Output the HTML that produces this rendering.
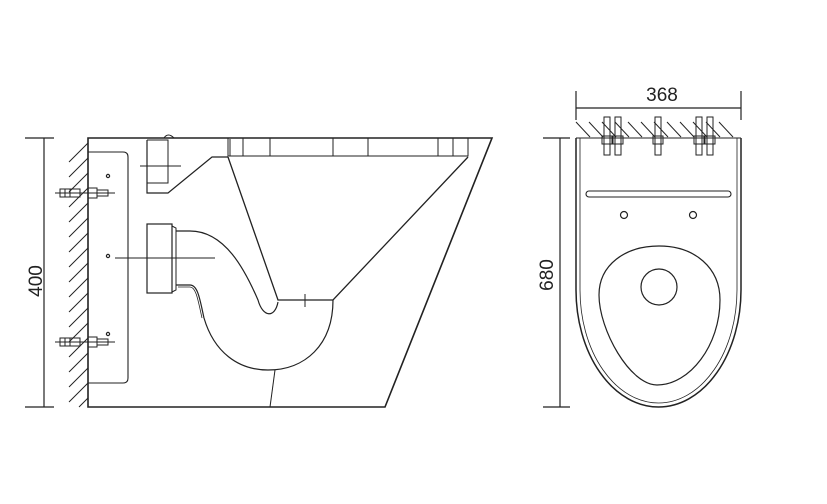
<!DOCTYPE html>
<html><head><meta charset="utf-8"><style>html,body{margin:0;padding:0;background:#fff}svg{display:block}</style></head>
<body>
<svg width="827" height="504" viewBox="0 0 827 504" xmlns="http://www.w3.org/2000/svg" fill="none" stroke="#222" stroke-width="1.2">
<line x1="44" y1="138" x2="44" y2="407"/>
<line x1="25" y1="138" x2="54" y2="138"/>
<line x1="25" y1="407" x2="54" y2="407"/>
<text x="0" y="0" transform="translate(42,281) rotate(-90)" text-anchor="middle" font-family="Liberation Sans, sans-serif" font-size="19" fill="#222" stroke="none">400</text>
<g stroke-width="1">
<line x1="88" y1="140" x2="88" y2="407"/>
<line x1="88" y1="143" x2="69" y2="162"/><line x1="88" y1="158" x2="69" y2="177"/><line x1="88" y1="173" x2="69" y2="192"/>
<line x1="88" y1="188" x2="69" y2="207"/><line x1="88" y1="203" x2="69" y2="222"/><line x1="88" y1="218" x2="69" y2="237"/>
<line x1="88" y1="233" x2="69" y2="252"/><line x1="88" y1="248" x2="69" y2="267"/><line x1="88" y1="263" x2="69" y2="282"/>
<line x1="88" y1="278" x2="69" y2="297"/><line x1="88" y1="293" x2="69" y2="312"/><line x1="88" y1="308" x2="69" y2="327"/>
<line x1="88" y1="323" x2="69" y2="342"/><line x1="88" y1="338" x2="69" y2="357"/><line x1="88" y1="353" x2="69" y2="372"/>
<line x1="88" y1="368" x2="69" y2="387"/><line x1="88" y1="383" x2="69" y2="402"/><line x1="88" y1="398" x2="79" y2="407"/>
</g>
<path d="M88 138 L492 138 L385 407 L88 407 Z" stroke-width="1.6"/>
<path d="M164 138 q4 -6 10 0" stroke-width="1"/>
<path d="M88 152 L123 152 Q128 152 128 157 L128 378 Q128 383 123 383 L88 383" stroke-width="1.1"/>
<circle cx="108" cy="176" r="1.6"/><circle cx="108" cy="256" r="1.6"/><circle cx="108" cy="334" r="1.6"/>
<path d="M228 138 L228 156 L468 156 L468 138" stroke-width="1"/>
<g stroke-width="1"><line x1="243" y1="138" x2="243" y2="156"/><line x1="270" y1="138" x2="270" y2="156"/><line x1="333" y1="138" x2="333" y2="156"/><line x1="368" y1="138" x2="368" y2="156"/><line x1="438" y1="138" x2="438" y2="156"/><line x1="453" y1="138" x2="453" y2="156"/><line x1="230" y1="139" x2="230" y2="156"/></g>
<path d="M147 140 L147 193 L168 193 L212 157 L228 157"/>
<path d="M147 140 L168 140 L168 183 L147 183" stroke-width="1"/>
<line x1="140" y1="166" x2="181" y2="166" stroke-width="1"/>
<path d="M228 157 L278 300 L333 300 L468 157" stroke-width="1.3"/>
<line x1="305" y1="294" x2="305" y2="307" stroke-width="1"/>
<rect x="147" y="224" width="25" height="69" stroke-width="1.2"/>
<path d="M172 226 L176 228 L176 290 L172 292" stroke-width="1"/>
<line x1="115" y1="258" x2="215" y2="258" stroke-width="1"/>
<path d="M176 231 L190 231 C225 231 245 270 258 300 C263 318 275 318 278 302" stroke-width="1.2"/>
<path d="M176 285 L190 285 C198 285 200 300 204 318 C214 352 238 370 268 370 C305 370 333 345 333 300" stroke-width="1.2"/>
<path d="M178 287 L190 287 C196 287 198 300 202 318" stroke-width="0.8"/>
<line x1="275" y1="370" x2="270" y2="407" stroke-width="1"/>
<g stroke-width="1">
<line x1="55" y1="193" x2="115" y2="193"/>
<rect x="60" y="189" width="20" height="8"/><rect x="65" y="189" width="5" height="8"/>
<rect x="88" y="188" width="9" height="10"/><rect x="97" y="190" width="11" height="6"/>
<line x1="55" y1="342" x2="115" y2="342"/>
<rect x="60" y="338" width="20" height="8"/><rect x="65" y="338" width="5" height="8"/>
<rect x="88" y="337" width="9" height="10"/><rect x="97" y="339" width="11" height="6"/>
</g>
<line x1="576" y1="108" x2="741" y2="108"/>
<line x1="576" y1="91" x2="576" y2="120"/><line x1="741" y1="91" x2="741" y2="120"/>
<text x="662" y="101" text-anchor="middle" font-family="Liberation Sans, sans-serif" font-size="19" fill="#222" stroke="none">368</text>
<line x1="560" y1="138" x2="560" y2="407"/>
<line x1="543" y1="138" x2="570" y2="138"/><line x1="543" y1="407" x2="570" y2="407"/>
<text x="0" y="0" transform="translate(553,275) rotate(-90)" text-anchor="middle" font-family="Liberation Sans, sans-serif" font-size="19" fill="#222" stroke="none">680</text>
<g stroke-width="1">
<line x1="576" y1="138" x2="741" y2="138"/>
<line x1="576" y1="122" x2="590" y2="137"/><line x1="589" y1="122" x2="603" y2="137"/><line x1="602" y1="122" x2="616" y2="137"/><line x1="615" y1="122" x2="629" y2="137"/><line x1="628" y1="122" x2="642" y2="137"/><line x1="641" y1="122" x2="655" y2="137"/><line x1="654" y1="122" x2="668" y2="137"/><line x1="667" y1="122" x2="681" y2="137"/><line x1="680" y1="122" x2="694" y2="137"/><line x1="693" y1="122" x2="707" y2="137"/><line x1="706" y1="122" x2="720" y2="137"/><line x1="719" y1="122" x2="733" y2="137"/>
</g>
<path d="M576 138 L576 290 A82.5 117 0 0 0 741 290 L741 138" stroke-width="1.5"/>
<path d="M580 138 L580 290 A78.5 113 0 0 0 737 290 L737 138" stroke-width="0.8"/>
<rect x="586" y="191" width="145" height="6" rx="3" stroke-width="1.1"/>
<circle cx="624" cy="215" r="3.5"/><circle cx="693" cy="215" r="3.5"/>
<path d="M659 246 C695 246 720 268 720 300 C720 345 690 385 657 385 C630 385 599 330 599 295 C599 265 625 246 659 246 Z" stroke-width="1.2"/>
<circle cx="659" cy="287" r="18" stroke-width="1.2"/>
<g stroke-width="1">
<rect x="604" y="117" width="6" height="38"/><rect x="602" y="136" width="10" height="8"/>
<rect x="615" y="117" width="6" height="38"/><rect x="613" y="136" width="10" height="8"/>
<rect x="655" y="117" width="6" height="38"/><rect x="653" y="136" width="10" height="8"/>
<rect x="696" y="117" width="6" height="38"/><rect x="694" y="136" width="10" height="8"/>
<rect x="707" y="117" width="6" height="38"/><rect x="705" y="136" width="10" height="8"/>
</g>
</svg>
</body></html>
